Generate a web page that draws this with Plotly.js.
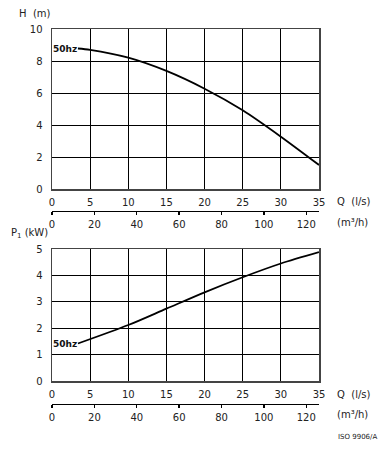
<!DOCTYPE html>
<html>
<head>
<meta charset="utf-8">
<script src="https://cdn.plot.ly/plotly-3.0.1.min.js"></script>
<style>html,body{margin:0;padding:0;background:#fff;}#chart{width:390px;height:450px;}</style>
</head>
<body>
<div id="chart"></div>
<script>
// Flow rate Q (l/s)
var flowQ = [3.4, 5, 10, 15, 20, 25, 30, 35];
// Head H (m), 50 Hz
var headH = [8.78, 8.70, 8.21, 7.38, 6.27, 4.92, 3.27, 1.5];
// Power input P1 (kW), 50 Hz
var powerQ = [3.4, 10, 15, 20, 25, 30, 35];
var powerP = [1.42, 2.12, 2.74, 3.36, 3.93, 4.45, 4.88];
// Axis ticks
var qTicks = [0, 5, 10, 15, 20, 25, 30, 35];
var m3hTicks = [0, 20, 40, 60, 80, 100, 120];
var m3hRange = [0, 126];
var hTicks = [0, 2, 4, 6, 8, 10];
var pTicks = [0, 1, 2, 3, 4, 5];
var curveLabel = '50hz';

var FONT = 'DejaVu Sans, Verdana, sans-serif';
var tickFont = {family: FONT, size: 10, color: '#222'};
var xDom = [52/390, 319/390];

var traces = [
  {x: flowQ, y: headH, xaxis: 'x', yaxis: 'y', mode: 'lines', line: {color: '#000', width: 1.8, shape: 'spline', smoothing: 0.8}, hoverinfo: 'skip', showlegend: false},
  {x: powerQ, y: powerP, xaxis: 'x2', yaxis: 'y2', mode: 'lines', line: {color: '#000', width: 1.8, shape: 'spline', smoothing: 0.8}, hoverinfo: 'skip', showlegend: false},
  {x: m3hTicks, y: m3hTicks.map(function(){return null;}), xaxis: 'x3', yaxis: 'y', mode: 'markers', marker: {opacity: 0}, hoverinfo: 'skip', showlegend: false},
  {x: m3hTicks, y: m3hTicks.map(function(){return null;}), xaxis: 'x4', yaxis: 'y2', mode: 'markers', marker: {opacity: 0}, hoverinfo: 'skip', showlegend: false}
];

function qAxis(anchor) {
  return {domain: xDom, range: [0, 35], tickvals: qTicks, ticks: '', showgrid: true, gridcolor: '#000', gridwidth: 1,
    showline: true, mirror: true, linecolor: '#444', linewidth: 1.5, zeroline: false, anchor: anchor, tickangle: 0,
    tickfont: tickFont, ticklabelstandoff: 3, fixedrange: true};
}
function m3Axis(over, pos) {
  return {domain: xDom, range: m3hRange, tickvals: m3hTicks, overlaying: over, anchor: 'free', position: pos,
    side: 'bottom', showgrid: false, zeroline: false, showline: true, linecolor: '#000', linewidth: 1.3, tickangle: 0,
    ticks: 'outside', ticklen: 3, tickwidth: 1.3, tickcolor: '#000', tickfont: tickFont, ticklabelstandoff: 1, fixedrange: true};
}
function yAxis(dom, rng, tv, anchor) {
  return {domain: dom, range: rng, tickvals: tv, ticks: '', showgrid: true, gridcolor: '#000', gridwidth: 1,
    showline: true, mirror: true, linecolor: '#444', linewidth: 1.5, zeroline: false, anchor: anchor,
    tickfont: tickFont, ticklabelstandoff: 6, fixedrange: true};
}

var layout = {
  width: 390, height: 450,
  margin: {l: 0, r: 0, t: 0, b: 0},
  paper_bgcolor: '#fff', plot_bgcolor: '#fff',
  showlegend: false,
  font: {family: FONT, size: 10, color: '#222'},
  xaxis: qAxis('y'),
  yaxis: yAxis([1 - 189/450, 1 - 29/450], [0, 10], hTicks, 'x'),
  xaxis2: qAxis('y2'),
  yaxis2: yAxis([1 - 381/450, 1 - 249/450], [0, 5], pTicks, 'x2'),
  xaxis3: m3Axis('x', 1 - 210.5/450),
  xaxis4: m3Axis('x2', 1 - 403.5/450),
  annotations: [
    {xref: 'paper', yref: 'paper', x: 17/390, y: 1 - 14/450, xanchor: 'left', yanchor: 'middle', text: 'H  (m)', showarrow: false, font: {family: FONT, size: 10, color: '#222'}},
    {xref: 'paper', yref: 'paper', x: 9/390, y: 1 - 233/450, xanchor: 'left', yanchor: 'middle', text: 'P<sub>1</sub> (kW)', showarrow: false, font: {family: FONT, size: 10, color: '#222'}},
    {xref: 'paper', yref: 'paper', x: 335/390, y: 1 - 201.5/450, xanchor: 'left', yanchor: 'middle', text: 'Q  (l/s)', showarrow: false, font: {family: FONT, size: 10, color: '#222'}},
    {xref: 'paper', yref: 'paper', x: 335/390, y: 1 - 222.5/450, xanchor: 'left', yanchor: 'middle', text: '(m³/h)', showarrow: false, font: {family: FONT, size: 10, color: '#222'}},
    {xref: 'paper', yref: 'paper', x: 335/390, y: 1 - 394/450, xanchor: 'left', yanchor: 'middle', text: 'Q  (l/s)', showarrow: false, font: {family: FONT, size: 10, color: '#222'}},
    {xref: 'paper', yref: 'paper', x: 335/390, y: 1 - 414.5/450, xanchor: 'left', yanchor: 'middle', text: '(m³/h)', showarrow: false, font: {family: FONT, size: 10, color: '#222'}},
    {xref: 'paper', yref: 'paper', x: 379/390, y: 1 - 437/450, xanchor: 'right', yanchor: 'middle', text: 'ISO 9906/A', showarrow: false, font: {family: FONT, size: 7, color: '#222'}},
    {xref: 'x', yref: 'y', x: flowQ[0], y: headH[0], xanchor: 'right', yanchor: 'middle', xshift: 1, text: '<b>' + curveLabel + '</b>', showarrow: false, font: {family: FONT, size: 9, color: '#111'}},
    {xref: 'x2', yref: 'y2', x: powerQ[0], y: powerP[0], xanchor: 'right', yanchor: 'middle', xshift: 1, text: '<b>' + curveLabel + '</b>', showarrow: false, font: {family: FONT, size: 9, color: '#111'}}
  ]
};

Plotly.newPlot('chart', traces, layout, {staticPlot: true, displayModeBar: false});
</script>
</body>
</html>
